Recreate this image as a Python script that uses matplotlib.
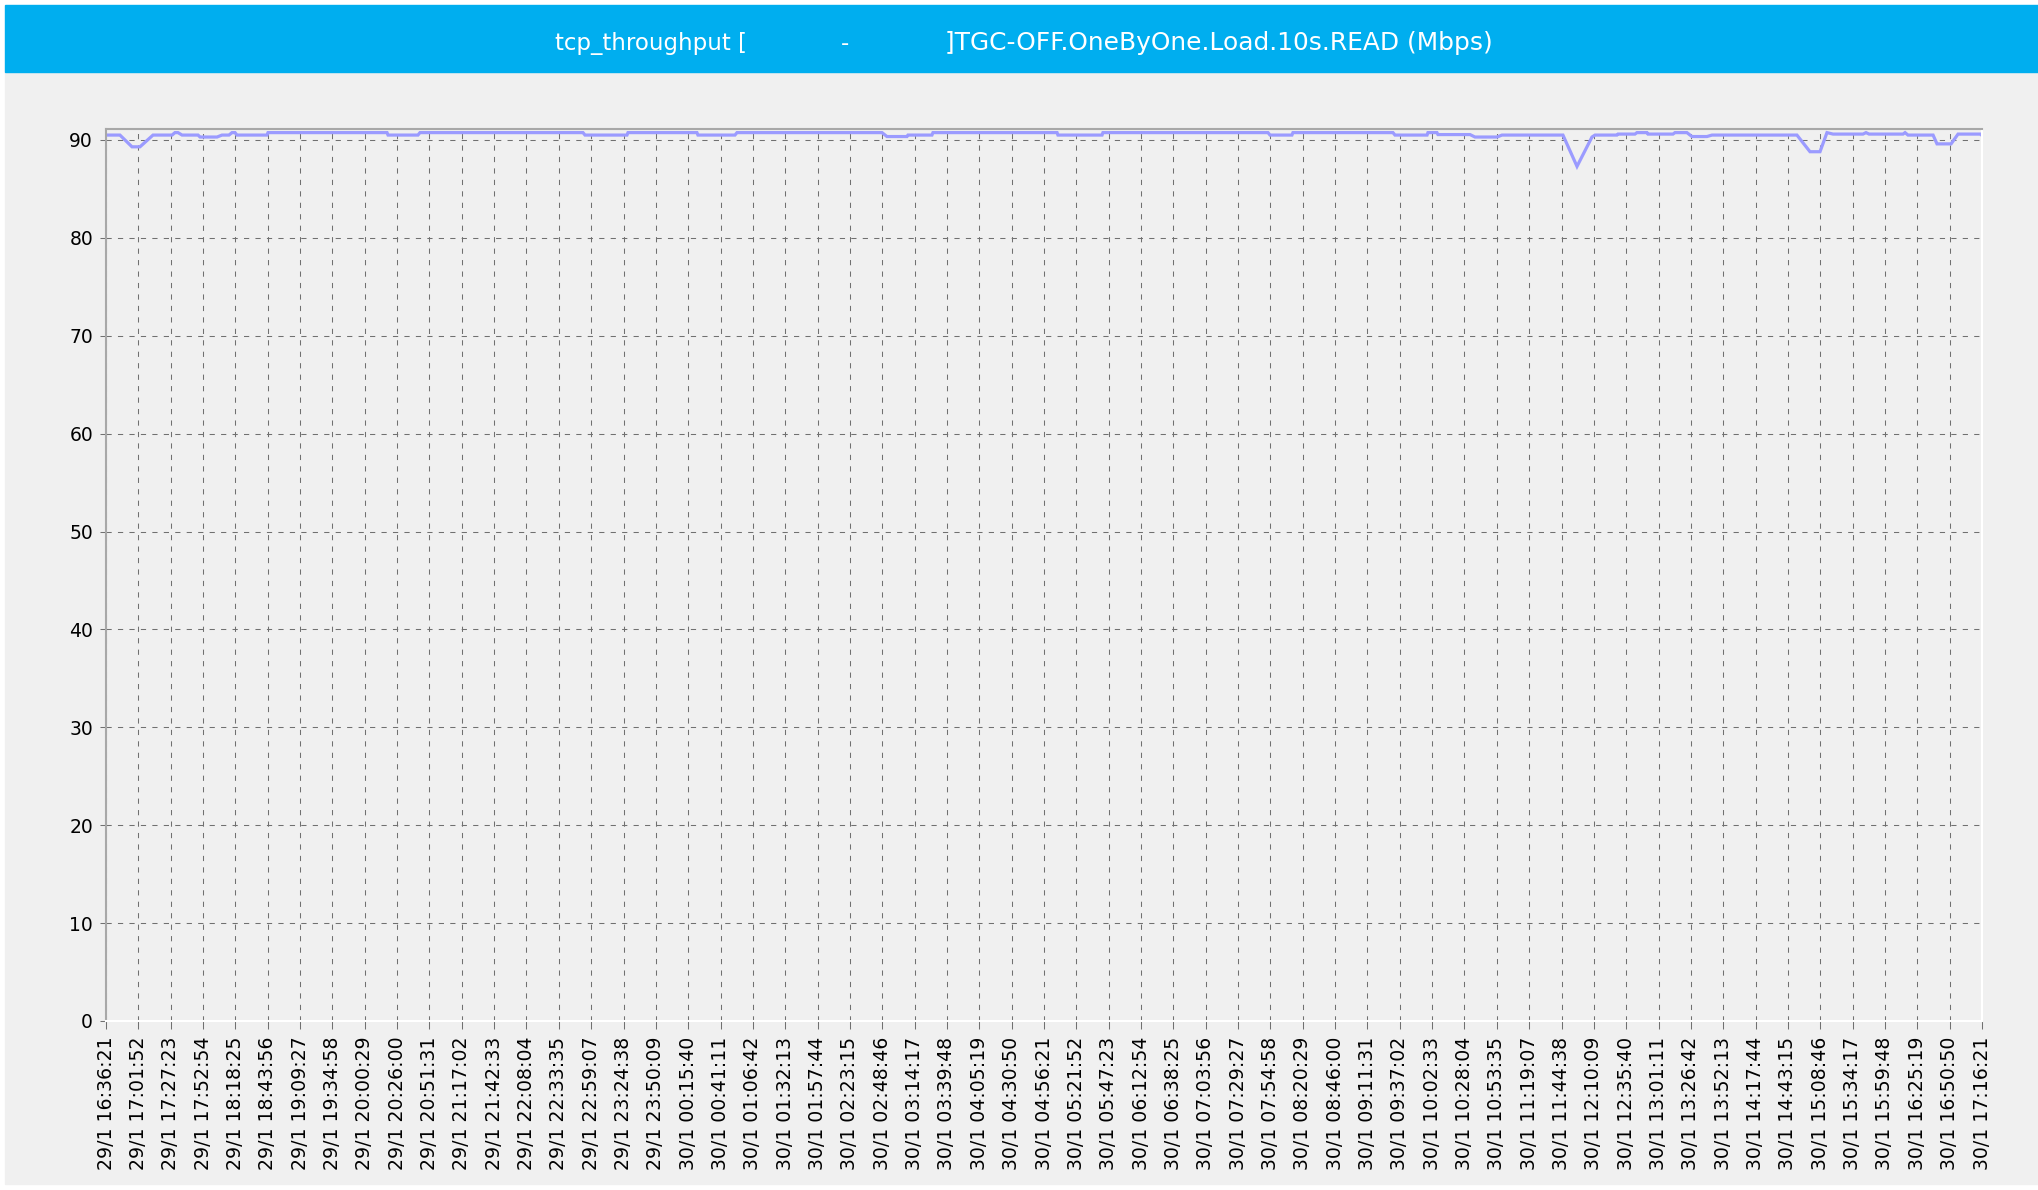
import numpy as np
import matplotlib
matplotlib.use("Agg")
import matplotlib.pyplot as plt
from matplotlib.patches import Rectangle

# data: minutes since 29/1 16:36:21 and throughput (Mbps)
minutes = [0, 11.0, 20.5, 26.8, 37.1, 52.1, 54.4, 56.8, 60.0, 72.6, 74.2, 87.6,
           91.5, 97.0, 99.4, 101.8, 103.3, 127.0, 127.8, 221.7, 222.5, 246.1,
           247.7, 376.3, 377.9, 411.0, 411.8, 466.2, 467.0, 496.2, 497.8, 612.2,
           616.1, 631.9, 632.7, 651.6, 652.4, 750.3, 751.0, 785.8, 786.5, 916.7,
           918.3, 935.6, 936.4, 1015.3, 1016.9, 1042.2, 1042.9, 1050.0, 1050.8,
           1076.1, 1080.0, 1097.4, 1101.3, 1149.4, 1160.5, 1172.3, 1174.7,
           1192.0, 1192.8, 1206.2, 1207.8, 1215.7, 1216.5, 1236.2, 1237.8,
           1247.2, 1251.2, 1263.0, 1267.0, 1334.0, 1344.3, 1352.2, 1357.7,
           1362.5, 1386.1, 1388.5, 1390.9, 1417.7, 1419.3, 1421.6, 1441.4,
           1444.5, 1455.6, 1461.1, 1479.2, 1480]
mbps = [90.5, 90.5, 89.3, 89.3, 90.5, 90.5, 90.75, 90.75, 90.5, 90.5, 90.3, 90.3,
        90.5, 90.5, 90.75, 90.75, 90.5, 90.5, 90.75, 90.75, 90.5, 90.5,
        90.75, 90.75, 90.5, 90.5, 90.75, 90.75, 90.5, 90.5, 90.75, 90.75,
        90.35, 90.35, 90.5, 90.5, 90.75, 90.75, 90.5, 90.5, 90.75, 90.75,
        90.5, 90.5, 90.75, 90.75, 90.5, 90.5, 90.75, 90.75, 90.55,
        90.55, 90.3, 90.3, 90.5, 90.5, 87.3, 90.3, 90.5,
        90.5, 90.6, 90.6, 90.75, 90.75, 90.6, 90.6, 90.75,
        90.75, 90.35, 90.35, 90.5, 90.5, 88.8, 88.8, 90.75,
        90.6, 90.6, 90.75, 90.6, 90.6, 90.75, 90.5, 90.5,
        89.6, 89.6, 90.6, 90.6, 90.45]

tick_labels = [
    "29/1 16:36:21", "29/1 17:01:52", "29/1 17:27:23", "29/1 17:52:54",
    "29/1 18:18:25", "29/1 18:43:56", "29/1 19:09:27", "29/1 19:34:58",
    "29/1 20:00:29", "29/1 20:26:00", "29/1 20:51:31", "29/1 21:17:02",
    "29/1 21:42:33", "29/1 22:08:04", "29/1 22:33:35", "29/1 22:59:07",
    "29/1 23:24:38", "29/1 23:50:09", "30/1 00:15:40", "30/1 00:41:11",
    "30/1 01:06:42", "30/1 01:32:13", "30/1 01:57:44", "30/1 02:23:15",
    "30/1 02:48:46", "30/1 03:14:17", "30/1 03:39:48", "30/1 04:05:19",
    "30/1 04:30:50", "30/1 04:56:21", "30/1 05:21:52", "30/1 05:47:23",
    "30/1 06:12:54", "30/1 06:38:25", "30/1 07:03:56", "30/1 07:29:27",
    "30/1 07:54:58", "30/1 08:20:29", "30/1 08:46:00", "30/1 09:11:31",
    "30/1 09:37:02", "30/1 10:02:33", "30/1 10:28:04", "30/1 10:53:35",
    "30/1 11:19:07", "30/1 11:44:38", "30/1 12:10:09", "30/1 12:35:40",
    "30/1 13:01:11", "30/1 13:26:42", "30/1 13:52:13", "30/1 14:17:44",
    "30/1 14:43:15", "30/1 15:08:46", "30/1 15:34:17", "30/1 15:59:48",
    "30/1 16:25:19", "30/1 16:50:50", "30/1 17:16:21"]
y_ticks = [0, 10, 20, 30, 40, 50, 60, 70, 80, 90]

total_min = 1480  # 29/1 16:36:21 -> 30/1 17:16:21

W, H = 2038, 1190
fig = plt.figure(figsize=(W / 100, H / 100), dpi=100, facecolor="white")

# grey panel and blue title bar (behind the axes)
fig.patches.append(Rectangle((5 / W, 6 / H), 1 - 5 / W, (H - 72 - 6) / H,
                             transform=fig.transFigure, color="#f0f0f0", zorder=-3))
fig.patches.append(Rectangle((5 / W, (H - 72) / H), 1 - 5 / W, 67 / H,
                             transform=fig.transFigure, color="#00aeef", zorder=-2))

# title in three pieces (the gaps are blank in the original)
ty = 1 - 50 / H
fig.text(555 / W, ty, "tcp_throughput [", color="white", fontsize=16.5,
         ha="left", va="baseline")
fig.text(845 / W, ty, "-", color="white", fontsize=16.5, ha="center", va="baseline")
fig.text(945 / W, ty, "]TGC-OFF.OneByOne.Load.10s.READ (Mbps)", color="white",
         fontsize=17.9, ha="left", va="baseline")

ax = fig.add_axes([106 / W, 1 - 1021 / H, (1982 - 106) / W, (1021 - 129) / H])
ax.set_facecolor("#f0f0f0")

ax.plot(minutes, mbps, color="#9b9bff", linewidth=2.3, solid_joinstyle="miter")

ax.set_xlim(0, total_min)
ax.set_ylim(0, 91.12)
ax.set_xticks(np.linspace(0, total_min, len(tick_labels)))
ax.set_xticklabels(tick_labels, rotation=90, fontsize=13.6)
ax.set_yticks(y_ticks)
ax.set_yticklabels([str(v) for v in y_ticks], fontsize=13.5)

ax.grid(True, color="#707070", linewidth=0.75, linestyle=(0, (5, 6)))
ax.tick_params(axis="x", length=5.8, width=0.75, color="#707070", pad=5.5)
ax.tick_params(axis="y", length=4.3, width=0.75, color="#707070", pad=5)

for side in ["left", "top"]:
    ax.spines[side].set_color("#a8a8a8")
    ax.spines[side].set_linewidth(1.5)
for side in ["right", "bottom"]:
    ax.spines[side].set_color("white")
    ax.spines[side].set_linewidth(1.5)

plt.savefig("out.png", dpi=100, facecolor=fig.get_facecolor())
